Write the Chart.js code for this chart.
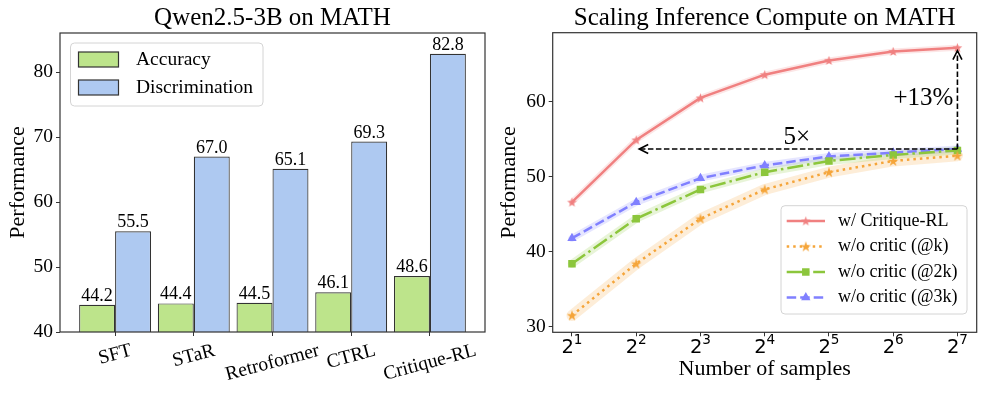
<!DOCTYPE html>
<html><head><meta charset="utf-8">
<script src="https://cdn.jsdelivr.net/npm/chart.js@4.4.0/dist/chart.umd.min.js"></script>
<style>
html,body{margin:0;padding:0;background:#fff;width:987px;height:395px;overflow:hidden}
#l{position:absolute;left:0;top:0}
#r{position:absolute;left:495px;top:0}
</style></head><body>
<canvas id="l" width="495" height="395"></canvas>
<canvas id="r" width="492" height="395"></canvas>
<script>
// ---------- data: left bar chart ----------
const barCategories = ['SFT', 'STaR', 'Retroformer', 'CTRL', 'Critique-RL'];
const accuracy = [44.2, 44.4, 44.5, 46.1, 48.6];
const discrimination = [55.5, 67.0, 65.1, 69.3, 82.8];
const barYTicks = [40, 50, 60, 70, 80];

// ---------- data: right line chart ----------
const samples = [2, 4, 8, 16, 32, 64, 128];
const critiqueRL = [46.6, 54.9, 60.5, 63.6, 65.5, 66.7, 67.2];
const woCriticK = [31.5, 38.4, 44.4, 48.3, 50.6, 52.1, 52.8];
const woCritic2K = [38.4, 44.4, 48.3, 50.6, 52.1, 52.9, 53.5];
const woCritic3K = [41.8, 46.6, 49.8, 51.5, 52.7, 53.2, 53.7];
const lineYTicks = [30, 40, 50, 60];
const speedupLabel = '5×';
const gainLabel = '+13%';

// ---------- style ----------
const SERIF = "'Liberation Serif', 'Times New Roman', serif";
const SANS = "'DejaVu Sans', sans-serif";
const AX = '#333333';
const GREEN_BAR = '#bde48b';
const BLUE_BAR = '#aec9f1';
const RED = '#f08080';
const ORANGE = '#f5a53a';
const GREEN = '#8cc63c';
const BLUE = '#8080ff';
Chart.defaults.font.family = SERIF;
Chart.defaults.color = '#000';

function starCanvas(color, r) {
  const s = Math.ceil(r * 2 + 2);
  const cv = document.createElement('canvas');
  cv.width = s; cv.height = s;
  const g = cv.getContext('2d');
  g.translate(s / 2, s / 2 + r * 0.08);
  g.beginPath();
  for (let k = 0; k < 10; k++) {
    const rad = k % 2 ? r * 0.382 : r;
    const ang = -Math.PI / 2 + k * Math.PI / 5;
    g.lineTo(rad * Math.cos(ang), rad * Math.sin(ang));
  }
  g.closePath();
  g.fillStyle = color; g.fill();
  return cv;
}

const framePlugin = {
  id: 'frame',
  afterDatasetsDraw(c) {
    const { ctx, chartArea: a } = c;
    ctx.save();
    ctx.strokeStyle = AX; ctx.lineWidth = 1.2;
    ctx.strokeRect(a.left, a.top, a.right - a.left, a.bottom - a.top);
    ctx.restore();
  }
};

// ---------- left chart ----------
const barValueLabels = {
  id: 'barValueLabels',
  afterDatasetsDraw(c) {
    const ctx = c.ctx;
    ctx.save();
    ctx.font = '18px ' + SERIF;
    ctx.fillStyle = '#000';
    ctx.textAlign = 'center';
    ctx.textBaseline = 'alphabetic';
    c.data.datasets.forEach((ds, di) => {
      c.getDatasetMeta(di).data.forEach((bar, i) => {
        ctx.fillText(ds.data[i].y.toFixed(1), bar.x, bar.y - 4);
      });
    });
    ctx.restore();
  }
};
const rotatedCatLabels = {
  id: 'rotatedCatLabels',
  afterDraw(c) {
    const ctx = c.ctx, xs = c.scales.x, a = c.chartArea;
    const rot = 15 * Math.PI / 180;
    ctx.save();
    ctx.font = '19.5px ' + SERIF;
    ctx.fillStyle = '#000';
    ctx.textAlign = 'center';
    ctx.textBaseline = 'middle';
    barCategories.forEach((lab, i) => {
      const x = xs.getPixelForValue(i);
      const w = ctx.measureText(lab).width;
      const h = 19.5 * 1.15;
      const bh = w * Math.sin(rot) + h * Math.cos(rot);
      const cy = a.bottom + 4 + 3.5 + bh / 2;
      ctx.save();
      ctx.translate(x, cy);
      ctx.rotate(-rot);
      ctx.fillText(lab, 0, 0);
      ctx.restore();
    });
    ctx.restore();
  }
};
const barLegend = {
  id: 'barLegend',
  afterDraw(c) {
    const ctx = c.ctx, a = c.chartArea;
    const bx = a.left + 10.5, by = a.top + 10, bw = 192.5, bh = 63;
    ctx.save();
    ctx.beginPath();
    ctx.roundRect(bx, by, bw, bh, 4);
    ctx.fillStyle = 'rgba(255,255,255,0.85)';
    ctx.fill();
    ctx.strokeStyle = '#d4d4d4'; ctx.lineWidth = 1;
    ctx.stroke();
    ctx.font = '19.5px ' + SERIF;
    ctx.textBaseline = 'middle';
    ctx.textAlign = 'left';
    c.data.datasets.forEach((ds, i) => {
      const cy = by + 16.5 + i * 28;
      ctx.fillStyle = ds.backgroundColor;
      ctx.fillRect(bx + 8, cy - 7.5, 40, 15);
      ctx.strokeStyle = ds.borderColor; ctx.lineWidth = 1.2;
      ctx.strokeRect(bx + 8, cy - 7.5, 40, 15);
      ctx.fillStyle = '#000';
      ctx.fillText(ds.label, bx + 65.5, cy);
    });
    ctx.restore();
  }
};

new Chart(document.getElementById('l'), {
  type: 'bar',
  data: {
    datasets: [
      { label: 'Accuracy', data: accuracy.map((v, i) => ({ x: i, y: v })),
        backgroundColor: GREEN_BAR, borderColor: AX, borderWidth: 1.2,
        categoryPercentage: 0.914, barPercentage: 1 },
      { label: 'Discrimination', data: discrimination.map((v, i) => ({ x: i, y: v })),
        backgroundColor: BLUE_BAR, borderColor: AX, borderWidth: 1.2,
        categoryPercentage: 0.914, barPercentage: 1 }
    ]
  },
  options: {
    responsive: false, animation: false, devicePixelRatio: 1,
    layout: { padding: { left: 0, right: 10, top: 0, bottom: 0 } },
    plugins: {
      legend: { display: false }, tooltip: { enabled: false },
      title: { display: true, text: 'Qwen2.5-3B on MATH', fullSize: false, color: '#000',
        font: { family: SERIF, size: 25, weight: 'normal', lineHeight: 1.1 },
        padding: { top: 5, bottom: 0.5 } }
    },
    scales: {
      x: {
        type: 'linear', min: -0.7, max: 4.7, offset: false,
        afterBuildTicks: s => { s.ticks = barCategories.map((c, i) => ({ value: i })); },
        ticks: { callback: () => '', autoSkip: false, padding: 0 },
        grid: { drawOnChartArea: false, offset: false, drawTicks: true, tickLength: 4, color: AX, lineWidth: 1 },
        border: { display: false },
        afterFit: s => { s.height = 63; }
      },
      y: {
        min: 40, max: 86,
        afterBuildTicks: s => { s.ticks = barYTicks.map(v => ({ value: v })); },
        ticks: { font: { family: SERIF, size: 19.5 }, color: '#000', padding: 3 },
        grid: { drawOnChartArea: false, tickLength: 4, color: AX, lineWidth: 1 },
        border: { display: false },
        title: { display: true, text: 'Performance', color: '#000',
          font: { family: SERIF, size: 22, lineHeight: 1.2 }, padding: { top: 5.3, bottom: 0 } },
        afterFit: s => { s.width = 60; }
      }
    }
  },
  plugins: [framePlugin, barValueLabels, rotatedCatLabels, barLegend]
});

// ---------- right chart ----------
const exps = samples.map(n => Math.log2(n));
const starRed = starCanvas(RED, 5.2);
const starOrange = starCanvas(ORANGE, 5.6);
const lineStyles = [
  { color: RED, dash: [], marker: 'starRed', band: 6 },
  { color: ORANGE, dash: [2.5, 4], marker: 'starOrange', band: 11 },
  { color: GREEN, dash: [16, 4, 2.5, 4], marker: 'rect', band: 8 },
  { color: BLUE, dash: [9.5, 4], marker: 'triangle', band: 7 }
];
const lineSeries = [
  ['w/ Critique-RL', critiqueRL],
  ['w/o critic (@k)', woCriticK],
  ['w/o critic (@2k)', woCritic2K],
  ['w/o critic (@3k)', woCritic3K]
];
function markerStyle(m) {
  if (m === 'starRed') return starRed;
  if (m === 'starOrange') return starOrange;
  return m;
}
function hexA(hex, a) {
  const n = parseInt(hex.slice(1), 16);
  return `rgba(${n >> 16},${(n >> 8) & 255},${n & 255},${a})`;
}
function drawMarker(ctx, m, color, x, y) {
  ctx.fillStyle = color;
  if (m === 'starRed' || m === 'starOrange') {
    const cv = markerStyle(m);
    ctx.drawImage(cv, x - cv.width / 2, y - cv.height / 2);
  } else if (m === 'rect') {
    const s = 5.3 * Math.SQRT1_2;
    ctx.fillRect(x - s, y - s, 2 * s, 2 * s);
  } else if (m === 'triangle') {
    const r = 5.4;
    ctx.beginPath();
    for (let k = 0; k < 3; k++) {
      const ang = k * 2 * Math.PI / 3;
      ctx.lineTo(x + Math.sin(ang) * r, y - Math.cos(ang) * r);
    }
    ctx.closePath(); ctx.fill();
  }
}

const bandPlugin = {
  id: 'bands',
  beforeDatasetsDraw(c) {
    const ctx = c.ctx;
    ctx.save();
    c.data.datasets.forEach((ds, di) => {
      const st = lineStyles[di];
      const pts = c.getDatasetMeta(di).data;
      ctx.beginPath();
      pts.forEach((p, i) => i ? ctx.lineTo(p.x, p.y) : ctx.moveTo(p.x, p.y));
      ctx.strokeStyle = hexA(st.color, 0.2);
      ctx.lineWidth = st.band;
      ctx.lineJoin = 'round'; ctx.lineCap = 'round';
      ctx.stroke();
    });
    ctx.restore();
  }
};
const powTicks = {
  id: 'powTicks',
  afterDraw(c) {
    const ctx = c.ctx, xs = c.scales.x, a = c.chartArea;
    ctx.save();
    ctx.fillStyle = '#000';
    ctx.textBaseline = 'alphabetic';
    ctx.textAlign = 'left';
    exps.forEach(e => {
      const x = xs.getPixelForValue(e);
      ctx.font = '19.5px ' + SANS;
      const wb = ctx.measureText('2').width;
      ctx.font = '13.6px ' + SANS;
      const we = ctx.measureText(String(e)).width;
      const x0 = x - (wb + we) / 2;
      ctx.font = '19.5px ' + SANS;
      ctx.fillText('2', x0, a.bottom + 20.7);
      ctx.font = '13.6px ' + SANS;
      ctx.fillText(String(e), x0 + wb, a.bottom + 11.4);
    });
    ctx.restore();
  }
};
const annotations = {
  id: 'annotations',
  afterDatasetsDraw(c) {
    const ctx = c.ctx, xs = c.scales.x, ys = c.scales.y;
    const last = samples.length - 1;
    const xR = xs.getPixelForValue(exps[last]);
    const xL = xs.getPixelForValue(exps[1]);
    const yB = ys.getPixelForValue(woCritic3K[last]);
    const yT = ys.getPixelForValue(critiqueRL[last]);
    ctx.save();
    ctx.strokeStyle = '#000'; ctx.lineWidth = 1.6;
    ctx.setLineDash([5.5, 2.5]);
    ctx.beginPath(); ctx.moveTo(xR, yB); ctx.lineTo(xL + 3, yB); ctx.stroke();
    ctx.beginPath(); ctx.moveTo(xR, yB); ctx.lineTo(xR, yT + 3); ctx.stroke();
    ctx.setLineDash([]);
    ctx.beginPath();
    ctx.moveTo(xL + 3 + 9, yB - 4.5); ctx.lineTo(xL + 3, yB); ctx.lineTo(xL + 3 + 9, yB + 4.5);
    ctx.moveTo(xR - 4.5, yT + 3 + 9); ctx.lineTo(xR, yT + 3); ctx.lineTo(xR + 4.5, yT + 3 + 9);
    ctx.stroke();
    ctx.fillStyle = '#000';
    ctx.font = '25px ' + SERIF;
    ctx.textAlign = 'center'; ctx.textBaseline = 'alphabetic';
    ctx.fillText(speedupLabel, xs.getPixelForValue((exps[1] + exps[last]) / 2), yB - 4.5);
    ctx.textAlign = 'right'; ctx.textBaseline = 'middle';
    ctx.fillText(gainLabel, xR - 4, (yB + yT) / 2);
    ctx.restore();
  }
};
const lineLegend = {
  id: 'lineLegend',
  afterDraw(c) {
    const ctx = c.ctx, a = c.chartArea;
    const bx = a.right - 195.7, by = a.bottom - 126.6, bw = 186, bh = 108.3;
    ctx.save();
    ctx.beginPath();
    ctx.roundRect(bx, by, bw, bh, 4);
    ctx.fillStyle = 'rgba(255,255,255,0.85)';
    ctx.fill();
    ctx.strokeStyle = '#d4d4d4'; ctx.lineWidth = 1;
    ctx.stroke();
    c.data.datasets.forEach((ds, i) => {
      const st = lineStyles[i];
      const cy = by + 15.3 + i * 25.5;
      ctx.strokeStyle = st.color; ctx.lineWidth = 2.5;
      ctx.setLineDash(st.dash);
      ctx.beginPath(); ctx.moveTo(bx + 5.7, cy); ctx.lineTo(bx + 44, cy); ctx.stroke();
      ctx.setLineDash([]);
      drawMarker(ctx, st.marker, st.color, bx + 24.8, cy);
      ctx.fillStyle = '#000';
      ctx.font = '18px ' + SERIF;
      ctx.textAlign = 'left'; ctx.textBaseline = 'middle';
      ctx.fillText(ds.label, bx + 57, cy);
    });
    ctx.restore();
  }
};

new Chart(document.getElementById('r'), {
  type: 'line',
  data: {
    datasets: lineSeries.map(([label, vals], i) => {
      const st = lineStyles[i];
      return {
        label, data: exps.map((x, k) => ({ x, y: vals[k] })),
        borderColor: st.color, backgroundColor: st.color, borderWidth: 2.5,
        borderDash: st.dash, borderCapStyle: 'butt', tension: 0, fill: false,
        pointStyle: markerStyle(st.marker),
        pointRadius: st.marker === 'triangle' ? 5.4 : 5.3,
        pointBorderWidth: 0, pointBackgroundColor: st.color, pointBorderColor: st.color
      };
    })
  },
  options: {
    responsive: false, animation: false, devicePixelRatio: 1,
    layout: { padding: { left: 0, right: 10.3, top: 0, bottom: 0 } },
    plugins: {
      legend: { display: false }, tooltip: { enabled: false },
      title: { display: true, text: 'Scaling Inference Compute on MATH', fullSize: false, color: '#000',
        font: { family: SERIF, size: 25, weight: 'normal', lineHeight: 1.1 },
        padding: { top: 4.7, bottom: 0.5 } }
    },
    scales: {
      x: {
        type: 'linear', min: 0.7, max: 7.3,
        afterBuildTicks: s => { s.ticks = exps.map(v => ({ value: v })); },
        ticks: { callback: () => '', autoSkip: false, padding: 0 },
        grid: { drawOnChartArea: false, drawTicks: true, tickLength: 4, color: AX, lineWidth: 1 },
        border: { display: false },
        title: { display: true, text: 'Number of samples', color: '#000',
          font: { family: SERIF, size: 22, lineHeight: 1.2 }, padding: { top: 0, bottom: 12.5 } },
        afterFit: s => { s.height = 62.7; }
      },
      y: {
        min: 29.25, max: 69.2,
        afterBuildTicks: s => { s.ticks = lineYTicks.map(v => ({ value: v })); },
        ticks: { font: { family: SERIF, size: 19.5 }, color: '#000', padding: 3 },
        grid: { drawOnChartArea: false, tickLength: 4, color: AX, lineWidth: 1 },
        border: { display: false },
        title: { display: true, text: 'Performance', color: '#000',
          font: { family: SERIF, size: 22, lineHeight: 1.2 }, padding: { top: 0.8, bottom: 0 } },
        afterFit: s => { s.width = 57.7; }
      }
    }
  },
  plugins: [bandPlugin, framePlugin, annotations, powTicks, lineLegend]
});
</script>
</body></html>
